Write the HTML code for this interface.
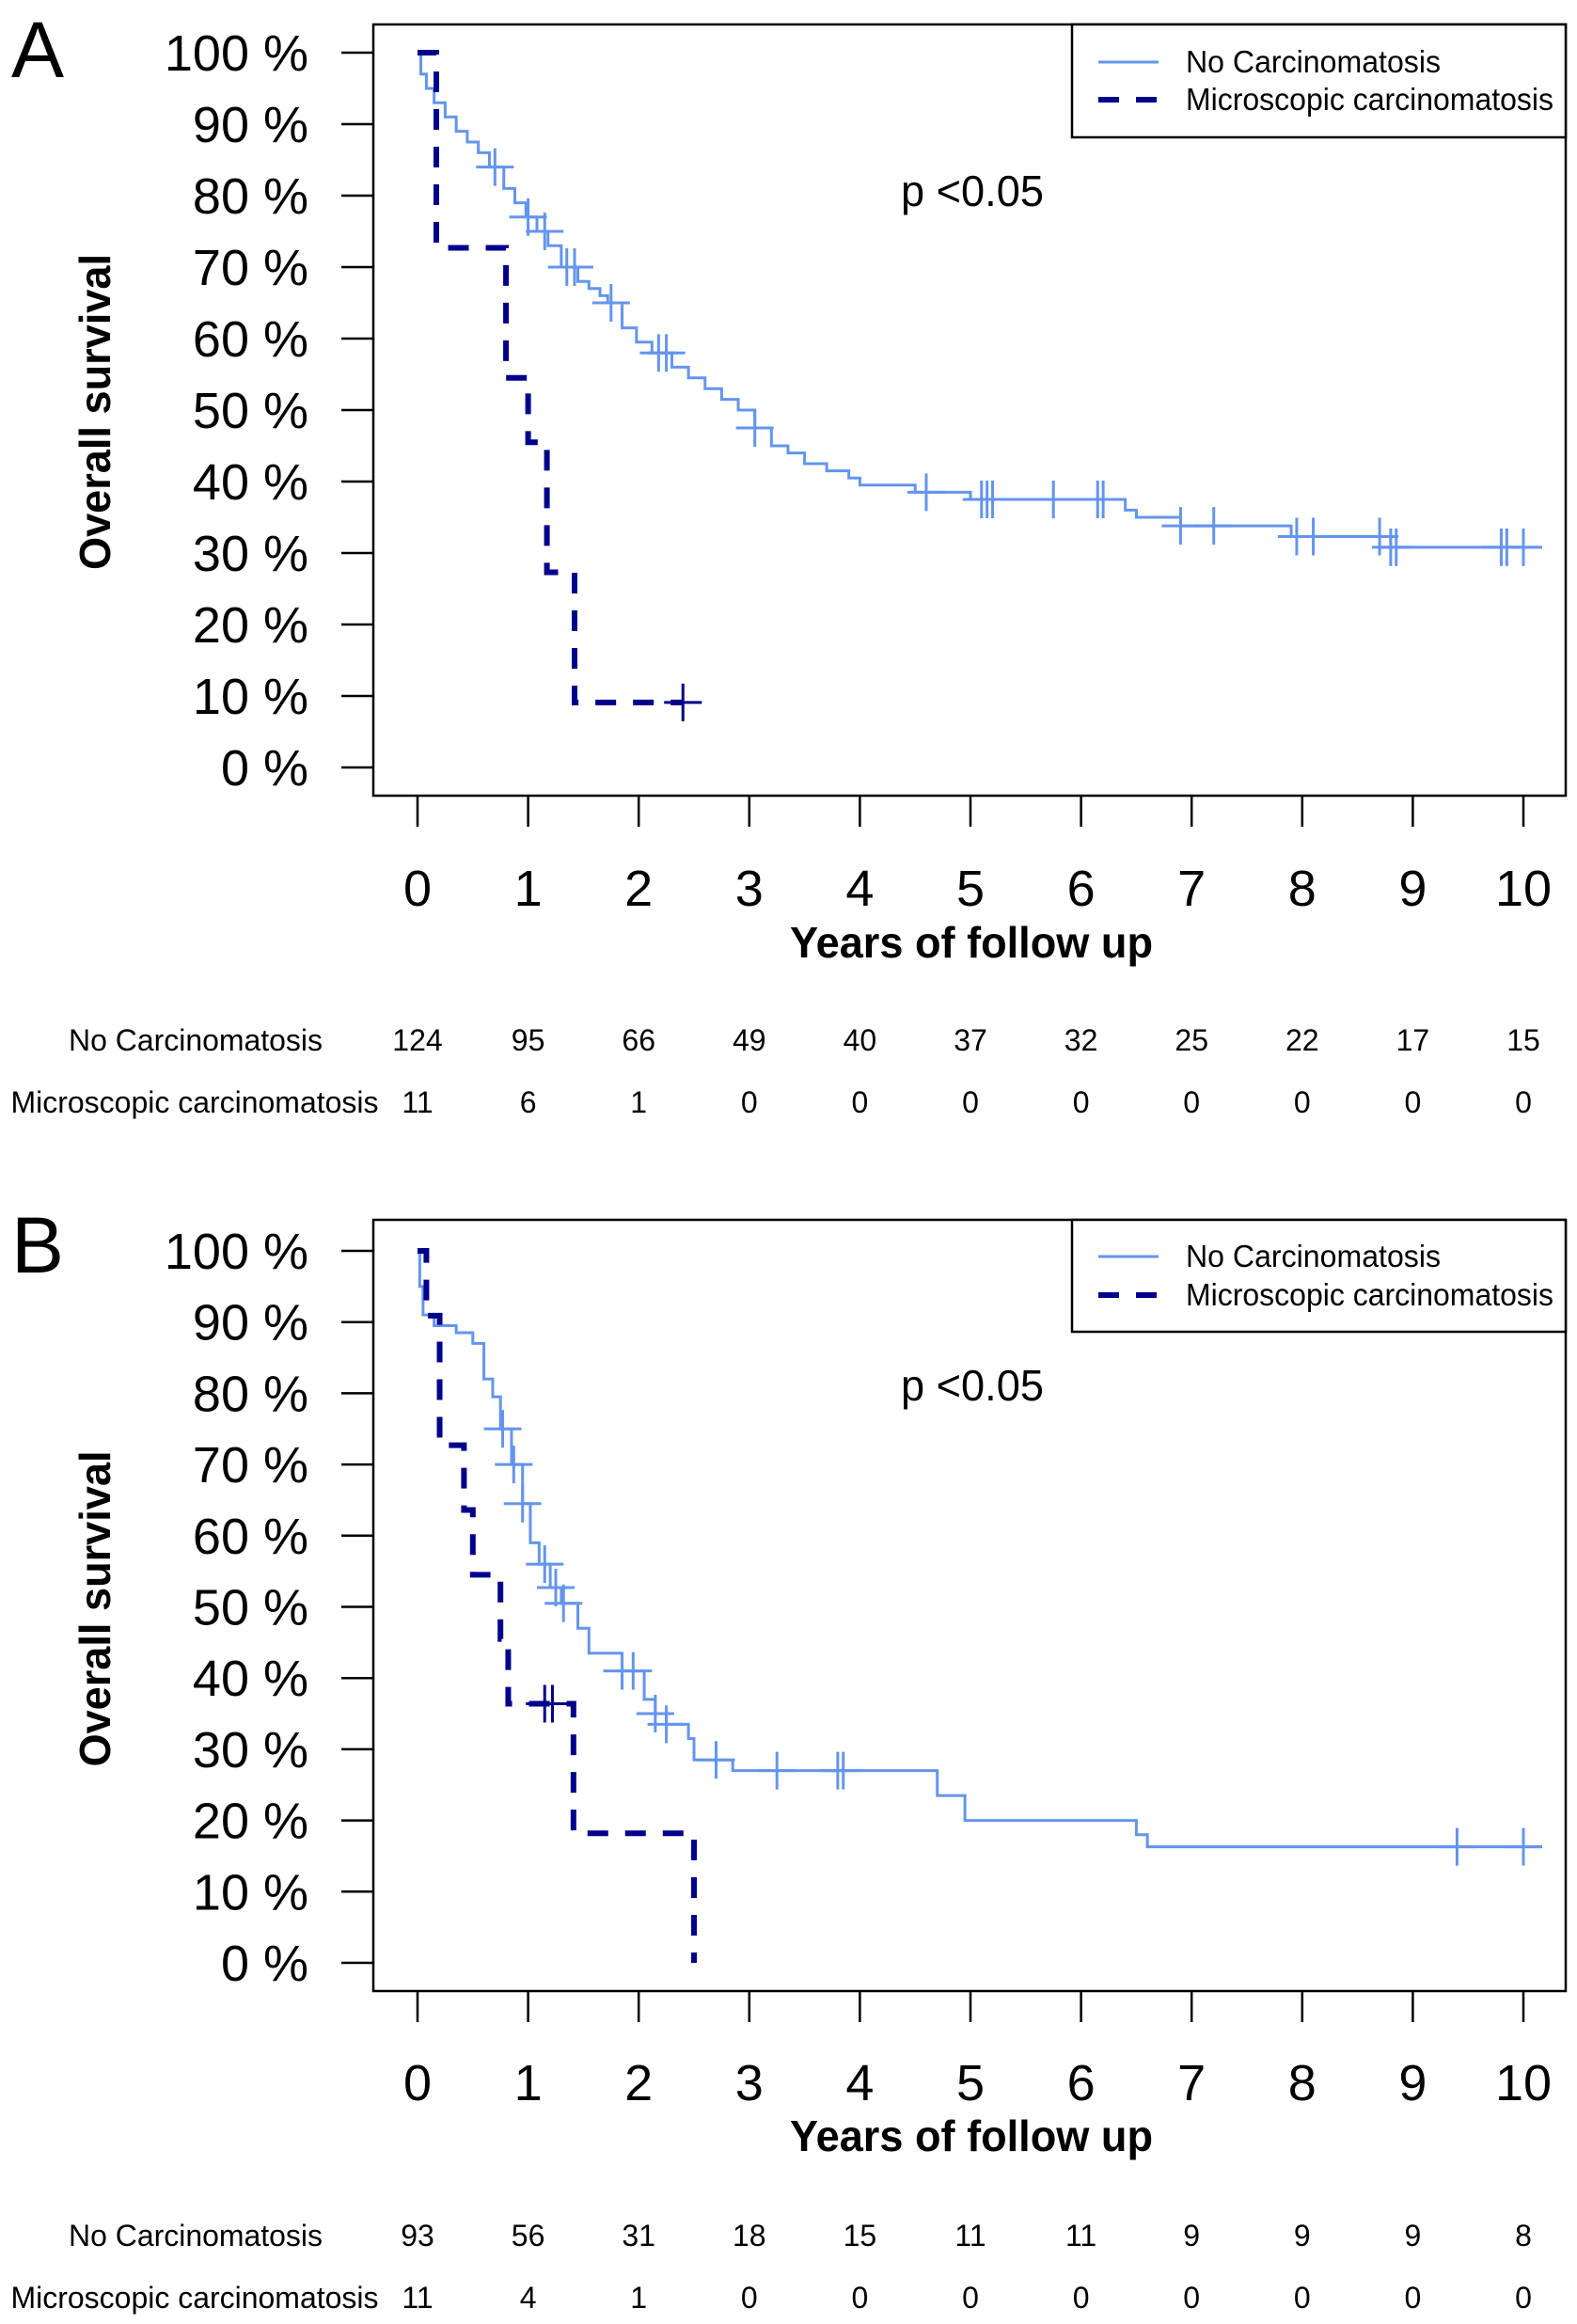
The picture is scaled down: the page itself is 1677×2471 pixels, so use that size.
<!DOCTYPE html>
<html><head><meta charset="utf-8"><style>
html,body{margin:0;padding:0;background:#fff;}
svg{display:block;font-family:"Liberation Sans",sans-serif;}
</style></head><body>
<svg id="fig" width="1677" height="2471" viewBox="0 0 1677 2471" xmlns="http://www.w3.org/2000/svg"></svg>
<script>
// ---- data ----
const xTicks = [0,1,2,3,4,5,6,7,8,9,10];
const yTicks = [0,10,20,30,40,50,60,70,80,90,100];
const riskA_none = [124,95,66,49,40,37,32,25,22,17,15];
const riskA_micro = [11,6,1,0,0,0,0,0,0,0,0];
const riskB_none = [93,56,31,18,15,11,11,9,9,9,8];
const riskB_micro = [11,4,1,0,0,0,0,0,0,0,0];

const A_none_t = [0,0.03,0.08,0.15,0.25,0.35,0.45,0.55,0.65,0.78,0.88,0.98,1.08,1.18,1.3,1.45,1.55,1.65,1.72,1.85,1.98,2.12,2.3,2.45,2.6,2.75,2.9,3.05,3.2,3.35,3.5,3.7,3.9,4.0,4.5,5.0,6.4,6.5,6.9,7.9,8.8];
const A_none_s = [100,97,95,93,91,89,87.5,86,84,81,79,77,75,73,70,68,67,66,65,61.5,59.5,58,56,54.5,53,51.5,50,47.5,45,44,42.5,41.5,40.5,39.5,38.5,37.5,36,35,33.8,32.3,30.8];
const A_none_cens_t = [0.7,1.0,1.15,1.35,1.42,1.75,2.18,2.25,3.05,4.6,5.1,5.15,5.2,5.75,6.15,6.2,6.9,7.2,7.95,8.1,8.7,8.8,8.85,9.8,9.85,10.0];
const A_micro_t = [0,0.17,0.8,1.0,1.17,1.42];
const A_micro_s = [100,72.7,54.5,45.5,27.3,9.1];
const A_micro_cens_t = [2.4];

const B_none_t = [0,0.02,0.05,0.15,0.35,0.5,0.6,0.68,0.75,0.85,0.95,1.02,1.1,1.2,1.3,1.45,1.55,1.85,2.05,2.15,2.25,2.45,2.5,2.85,4.7,4.95,6.5,6.6];
const B_none_s = [100,95,91,89.5,88.5,87,82,79.5,75,70,64.5,59,56,52.7,50.5,47,43.5,41,37,35,33.5,31.5,28.5,27,23.5,20,18,16.3];
const B_none_cens_t = [0.77,0.87,0.95,1.15,1.25,1.32,1.85,1.95,2.15,2.25,2.7,3.25,3.8,3.85,9.4,10.0];
const B_micro_t = [0,0.08,0.2,0.42,0.5,0.75,0.82,1.41,2.5];
const B_micro_s = [100,90.9,72.7,63.6,54.5,45.5,36.4,18.2,0];
const B_micro_cens_t = [1.15,1.22];

const NS = "http://www.w3.org/2000/svg";
const svg = document.getElementById('fig');
function mk(tag, attrs, parent, text){
  const e = document.createElementNS(NS, tag);
  for (const k in attrs) e.setAttribute(k, attrs[k]);
  if (text !== undefined) e.textContent = text;
  (parent||svg).appendChild(e);
  return e;
}
function stepAt(ts, ss, t){ let v = ss[0]; for (let i=0;i<ts.length;i++){ if (ts[i] <= t) v = ss[i]; } return v; }

function panel(o){
  const g = mk('g', {});
  
  
  const x0 = 444, x10 = 1620;
  const X = t => x0 + t*(x10-x0)/10;
  const Y = s => o.y0 - s/100*(o.y0-o.y100);
  const box = mk('rect', {x:397, y:o.top, width:1268, height:o.bottom-o.top, fill:'none', stroke:'#000', 'stroke-width':2.5}, g);
  
  
  const L = mk('text', {x:12, y:o.top+56, 'font-size':84}, g, o.letter);
  
  
  yTicks.forEach(v => {
    const tk = mk('line', {x1:363, x2:397, y1:Y(v), y2:Y(v), stroke:'#000','stroke-width':2.5}, g);
    
    
    const tl = mk('text', {x:328, y:Y(v)+19, 'font-size':54, 'text-anchor':'end'}, g, v + ' %');
    
    
  });
  xTicks.forEach(v => {
    const tk = mk('line', {x1:X(v), x2:X(v), y1:o.bottom, y2:o.bottom+33, stroke:'#000','stroke-width':2.5}, g);
    
    
    const tl = mk('text', {x:X(v), y:o.xlab+17, 'font-size':54, 'text-anchor':'middle'}, g, String(v));
    
    
  });
  const xt = mk('text', {x:1033, y:o.xtitle+10, 'font-size':46, 'font-weight':'bold', 'text-anchor':'middle', textLength:386, lengthAdjust:'spacingAndGlyphs'}, g, 'Years of follow up');
  
  
  const yc = (o.y0+o.y100)/2 + 2;
  const yt = mk('text', {x:0, y:0, 'font-size':46, 'font-weight':'bold', 'text-anchor':'middle', textLength:336, lengthAdjust:'spacingAndGlyphs', transform:`translate(117,${yc}) rotate(-90)`}, g, 'Overall survival');
  
  
  const pv = mk('text', {x:958, y:o.pY+15, 'font-size':46, textLength:152, lengthAdjust:'spacingAndGlyphs'}, g, 'p <0.05');
  
  
  const lg = mk('g', {}, g);
  
  
  mk('rect', {x:1140, y:o.top, width:525, height:o.legBottom-o.top, fill:'#fff', stroke:'#000', 'stroke-width':2.5}, lg);
  const e1 = mk('g', {}, lg);
  
  
  mk('line', {x1:1168, x2:1232, y1:o.leg1, y2:o.leg1, stroke:'#6495ED','stroke-width':3}, e1);
  mk('text', {x:1261, y:o.leg1+11, 'font-size':33, textLength:271, lengthAdjust:'spacingAndGlyphs'}, e1, 'No Carcinomatosis');
  const e2 = mk('g', {}, lg);
  
  
  mk('line', {x1:1168, x2:1234, y1:o.leg2, y2:o.leg2, stroke:'#00008B','stroke-width':6,'stroke-dasharray':'22 18'}, e2);
  mk('text', {x:1261, y:o.leg2+11, 'font-size':33, textLength:391, lengthAdjust:'spacingAndGlyphs'}, e2, 'Microscopic carcinomatosis');
  function curve(ts, ss, end, color, w, dash, nm){
    let d = `M${X(ts[0])},${Y(ss[0])}`;
    for (let i=1;i<ts.length;i++){ d += ` H${X(ts[i])} V${Y(ss[i])}`; }
    if (end !== null) d += ` H${X(end)}`;
    const p = mk('path', {d, fill:'none', stroke:color, 'stroke-width':w}, g);
    if (dash) p.setAttribute('stroke-dasharray', dash);
    
    
  }
  function cens(ts, ss, tc, color, w, nm){
    tc.forEach(t => {
      const s = stepAt(ts, ss, t);
      const c = mk('path', {d:`M${X(t)-20},${Y(s)} H${X(t)+20} M${X(t)},${Y(s)-20} V${Y(s)+20}`, stroke:color, 'stroke-width':w, fill:'none'}, g);
      
      
    });
  }
  curve(o.nt, o.ns, 10.15, '#6495ED', 3, null, 'curve-no-carcinomatosis');
  cens(o.nt, o.ns, o.nc, '#6495ED', 3, 'censor-mark-no-carcinomatosis');
  curve(o.mt, o.ms, o.mEnd, '#00008B', 6, '22 18', 'curve-microscopic-carcinomatosis');
  cens(o.mt, o.ms, o.mc, '#00008B', 3, 'censor-mark-microscopic');
  const rt = mk('g', {}, g);
  
  
  mk('text', {x:208, y:o.r1+11, 'font-size':32, 'text-anchor':'middle', textLength:270, lengthAdjust:'spacingAndGlyphs'}, rt, 'No Carcinomatosis');
  mk('text', {x:207, y:o.r2+11, 'font-size':32, 'text-anchor':'middle', textLength:391, lengthAdjust:'spacingAndGlyphs'}, rt, 'Microscopic carcinomatosis');
  xTicks.forEach((v,i) => {
    const a = mk('text', {x:X(v), y:o.r1+11, 'font-size':32, 'text-anchor':'middle'}, rt, String(o.risk1[i]));
    
    
    const b = mk('text', {x:X(v), y:o.r2+11, 'font-size':32, 'text-anchor':'middle'}, rt, String(o.risk2[i]));
    
    
  });
}

panel({name:'panel-a', letter:'A', top:26, bottom:846, y100:56, y0:816, xlab:946, xtitle:1008, pY:204,
  legBottom:146, leg1:66, leg2:106, r1:1106, r2:1172,
  nt:A_none_t, ns:A_none_s, nc:A_none_cens_t, mt:A_micro_t, ms:A_micro_s, mc:A_micro_cens_t, mEnd:2.4,
  risk1:riskA_none, risk2:riskA_micro});
panel({name:'panel-b', letter:'B', top:1297, bottom:2117, y100:1330, y0:2087, xlab:2216, xtitle:2277, pY:1474,
  legBottom:1416, leg1:1336, leg2:1377, r1:2377, r2:2443,
  nt:B_none_t, ns:B_none_s, nc:B_none_cens_t, mt:B_micro_t, ms:B_micro_s, mc:B_micro_cens_t, mEnd:null,
  risk1:riskB_none, risk2:riskB_micro});
</script>
</body></html>
